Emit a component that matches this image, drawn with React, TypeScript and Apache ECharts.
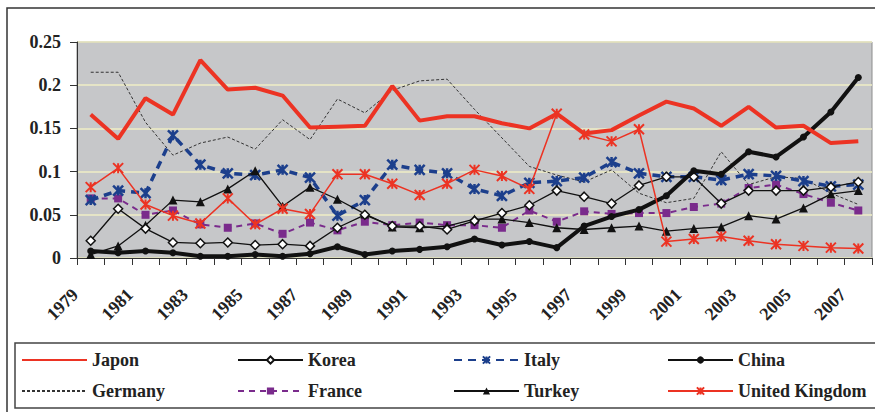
import React, { useEffect, useRef } from "react";
import * as echarts from "echarts";

const years = ["1979","1980","1981","1982","1983","1984","1985","1986","1987","1988","1989","1990","1991","1992","1993","1994","1995","1996","1997","1998","1999","2000","2001","2002","2003","2004","2005","2006","2007"];

const japon = [0.166,0.138,0.185,0.166,0.229,0.195,0.197,0.188,0.151,0.152,0.153,0.199,0.159,0.164,0.164,0.156,0.150,0.167,0.144,0.148,0.165,0.181,0.173,0.153,0.175,0.151,0.153,0.133,0.135];
const korea = [0.020,0.057,0.034,0.018,0.017,0.018,0.015,0.016,0.014,0.035,0.050,0.037,0.037,0.033,0.043,0.052,0.061,0.078,0.071,0.063,0.084,0.094,0.094,0.063,0.078,0.078,0.078,0.082,0.088];
const italy = [0.067,0.078,0.075,0.142,0.108,0.098,0.096,0.102,0.093,0.049,0.067,0.108,0.102,0.098,0.080,0.072,0.087,0.089,0.093,0.111,0.098,0.094,0.094,0.090,0.097,0.095,0.089,0.083,0.085];
const china = [0.008,0.006,0.008,0.006,0.002,0.002,0.004,0.002,0.005,0.013,0.004,0.008,0.010,0.013,0.022,0.015,0.019,0.012,0.037,0.048,0.056,0.072,0.101,0.097,0.123,0.117,0.140,0.169,0.209];
const germany = [0.215,0.215,0.157,0.119,0.133,0.140,0.126,0.160,0.137,0.184,0.168,0.194,0.205,0.207,0.172,0.139,0.106,0.096,0.088,0.102,0.075,0.064,0.069,0.123,0.085,0.094,0.092,0.075,0.062];
const france = [0.069,0.069,0.050,0.055,0.039,0.035,0.040,0.028,0.041,0.032,0.042,0.038,0.041,0.038,0.038,0.035,0.055,0.042,0.054,0.051,0.052,0.052,0.059,0.063,0.081,0.085,0.074,0.064,0.055];
const turkey = [0.004,0.014,0.038,0.067,0.065,0.080,0.101,0.060,0.082,0.068,0.051,0.036,0.035,0.037,0.045,0.045,0.041,0.035,0.033,0.035,0.037,0.031,0.034,0.036,0.049,0.045,0.058,0.074,0.078];
const uk = [0.082,0.104,0.062,0.049,0.040,0.069,0.039,0.057,0.051,0.097,0.097,0.086,0.073,0.086,0.102,0.095,0.080,0.167,0.143,0.135,0.149,0.019,0.022,0.025,0.020,0.016,0.014,0.012,0.011];

const seriesNames = ["Japon", "Korea", "Italy", "China", "Germany", "France", "Turkey", "United Kingdom"];

const STAR = "path://M0,0L10,10M10,0L0,10M5,0L5,10";
const FONT = "Times New Roman, Liberation Serif, DejaVu Serif, serif";
const RED = "#ec3323";

export default function App() {
  const ref = useRef<HTMLDivElement>(null);
  useEffect(() => {
    if (!ref.current) return;
    const chart = echarts.init(ref.current, null, { renderer: "svg" });
    const legendCols = [21, 237, 453, 667];
    const legendRows = [351, 382];
    const legends = seriesNames.map((name, i) => {
      const noSymbol = name === "Japon" || name === "Germany";
      return {
        data: [name],
        left: legendCols[i % 4],
        top: legendRows[Math.floor(i / 4)],
        orient: "horizontal",
        padding: 0,
        itemWidth: 65,
        itemHeight: 9,
        itemGap: 0,
        selectedMode: false,
        ...(noSymbol ? { itemStyle: { opacity: 0 } } : {}),
        textStyle: { fontFamily: FONT, fontWeight: "bold", fontSize: 18, color: "#222", lineHeight: 18 },
      };
    });
    const base = { type: "line", animation: false };
    chart.setOption({
      animation: false,
      backgroundColor: "#ffffff",
      textStyle: { fontFamily: FONT },
      grid: {
        left: 77,
        top: 42,
        right: 3,
        bottom: 154,
        show: true,
        backgroundColor: "#c6c7c9",
        borderColor: "#8c8c8c",
        borderWidth: 1,
      },
      legend: legends,
      graphic: [
        { type: "rect", z: -10, shape: { x: 7, y: 8, width: 900, height: 430 }, style: { fill: "none", stroke: "#333", lineWidth: 1.5 } },
        { type: "rect", z: -10, shape: { x: 15, y: 343, width: 900, height: 65 }, style: { fill: "none", stroke: "#444", lineWidth: 1.5 } },
      ],
      xAxis: {
        type: "category",
        data: years,
        boundaryGap: true,
        axisLine: { lineStyle: { color: "#333", width: 1 } },
        axisTick: { show: true, interval: 0, length: 7, lineStyle: { color: "#333" } },
        axisLabel: {
          interval: 1,
          rotate: 45,
          margin: 18,
          padding: [0, 22, 0, 0],
          fontFamily: FONT,
          fontWeight: "bold",
          fontSize: 18,
          color: "#222",
        },
        splitLine: { show: false },
      },
      yAxis: {
        type: "value",
        min: 0,
        max: 0.25,
        interval: 0.05,
        axisLine: { show: true, lineStyle: { color: "#333", width: 1 } },
        axisTick: { show: true, length: 7, lineStyle: { color: "#333" } },
        axisLabel: { margin: 16, fontFamily: FONT, fontWeight: "bold", fontSize: 18, color: "#222" },
        splitLine: { show: true, lineStyle: { color: "#efeec4", width: 1.5 } },
      },
      series: [
        { ...base, name: "Germany", data: germany, showSymbol: false, symbol: "none", lineStyle: { color: "#333", width: 1, type: [3, 2] }, itemStyle: { color: "#333" }, z: 2 },
        { ...base, name: "France", data: france, symbol: "rect", symbolSize: 8, lineStyle: { color: "#7a2b8c", width: 2, type: [6, 5] }, itemStyle: { color: "#7a2b8c" }, z: 3 },
        { ...base, name: "Italy", data: italy, symbol: STAR, symbolSize: 10, lineStyle: { color: "#1c3f8c", width: 3.5, type: [8, 6] }, itemStyle: { color: "#1c3f8c", borderColor: "#1c3f8c", borderWidth: 2.5 }, z: 4 },
        { ...base, name: "Turkey", data: turkey, symbol: "triangle", symbolSize: 9, lineStyle: { color: "#111", width: 1.3 }, itemStyle: { color: "#111" }, z: 5 },
        { ...base, name: "Korea", data: korea, symbol: "diamond", symbolSize: 9, lineStyle: { color: "#111", width: 1.3 }, itemStyle: { color: "#ffffff", borderColor: "#111", borderWidth: 1.5 }, z: 6 },
        { ...base, name: "China", data: china, symbol: "circle", symbolSize: 7, lineStyle: { color: "#111", width: 4 }, itemStyle: { color: "#111" }, z: 7 },
        { ...base, name: "United Kingdom", data: uk, symbol: STAR, symbolSize: 10, lineStyle: { color: RED, width: 1.5 }, itemStyle: { color: RED, borderColor: RED, borderWidth: 2 }, z: 8 },
        { ...base, name: "Japon", data: japon, showSymbol: false, symbol: "none", lineStyle: { color: RED, width: 4 }, itemStyle: { color: RED }, z: 9 },
      ],
    });
    return () => chart.dispose();
  }, []);
  return (
    <div
      ref={ref}
      style={{ position: "absolute", left: 0, top: 0, width: 875, height: 412, background: "#fff" }}
    />
  );
}
